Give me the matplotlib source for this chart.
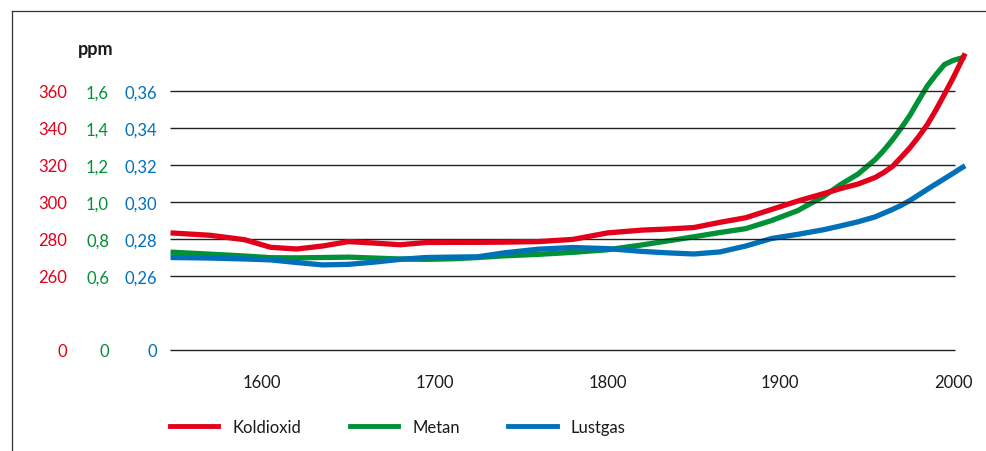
import matplotlib
matplotlib.use("Agg")
import matplotlib.pyplot as plt
from matplotlib.lines import Line2D

plt.rcParams['font.family'] = ['Lato', 'DejaVu Sans']

# values
years = [1547, 1570, 1590, 1605, 1620, 1635, 1650, 1665, 1680, 1695, 1710, 1725,
         1740, 1760, 1780, 1800, 1820, 1835, 1850, 1865, 1880, 1895, 1910, 1925,
         1935, 1945, 1955, 1960, 1965, 1970, 1975, 1980, 1985, 1990, 1995, 2000,
         2004, 2007]
koldioxid = [283.3, 282.0, 279.6, 275.5, 274.6, 276.2, 278.6, 277.8, 276.9, 278.1,
             278.2, 278.2, 278.3, 278.6, 279.8, 283.3, 284.8, 285.4, 286.2, 289.0,
             291.5, 296.0, 300.5, 304.5, 307.3, 309.7, 313.3, 316.0, 319.3, 324.2,
             329.3, 335.2, 341.7, 349.6, 358.2, 367.0, 374.6, 380.3]
metan = [0.729, 0.718, 0.708, 0.699, 0.698, 0.700, 0.702, 0.697, 0.692, 0.690,
         0.693, 0.700, 0.709, 0.717, 0.728, 0.742, 0.768, 0.790, 0.812, 0.835,
         0.856, 0.900, 0.953, 1.030, 1.095, 1.151, 1.230, 1.280, 1.337, 1.400,
         1.468, 1.548, 1.626, 1.687, 1.743, 1.765, 1.776, 1.782]
lustgas = [0.2700, 0.2697, 0.2692, 0.2687, 0.2673, 0.2660, 0.2663, 0.2675, 0.2690,
           0.2700, 0.2702, 0.2704, 0.2725, 0.2745, 0.2754, 0.2748, 0.2733, 0.2725,
           0.2719, 0.2730, 0.2762, 0.2803, 0.2825, 0.2850, 0.2871, 0.2893, 0.2920,
           0.2940, 0.2960, 0.2982, 0.3008, 0.3038, 0.3068, 0.3097, 0.3126, 0.3155,
           0.3179, 0.3196]

co2_ticks = [220, 260, 280, 300, 320, 340, 360]
co2_labels = ['0', '260', '280', '300', '320', '340', '360']
ch4_ticks = [0.2, 0.6, 0.8, 1.0, 1.2, 1.4, 1.6]
ch4_labels = ['0', '0,6', '0,8', '1,0', '1,2', '1,4', '1,6']
n2o_ticks = [0.22, 0.26, 0.28, 0.30, 0.32, 0.34, 0.36]
n2o_labels = ['0', '0,26', '0,28', '0,30', '0,32', '0,34', '0,36']
year_ticks = [1600, 1700, 1800, 1900, 2000]

RED = '#e2001a'
GREEN = '#009036'
BLUE = '#0071b9'
W, H = 987, 452

fig = plt.figure(figsize=(W / 100, H / 100), dpi=100)
ax = fig.add_axes([170 / W, (H - 351) / H, 805 / W, (351 - 45.75) / H])
ax_ch4 = ax.twinx()
ax_n2o = ax.twinx()

ax.set_xlim(1546.7, 2012.7)
ax.set_ylim(220, 385)
ax_ch4.set_ylim(0.2, 1.85)
ax_n2o.set_ylim(0.22, 0.385)

# horizontal rules
ax.hlines(co2_ticks, 0, 0.975, transform=ax.get_yaxis_transform(),
          color='#222222', lw=1.0, clip_on=False, zorder=1)

style = dict(lw=3.8, solid_capstyle='butt', solid_joinstyle='round', zorder=3)
ax_n2o.plot(years, lustgas, color=BLUE, **style)
ax_ch4.plot(years, metan, color=GREEN, **style)
ax.plot(years, koldioxid, color=RED, **style)
ax.set_zorder(3)
ax.patch.set_visible(False)

for a, ticks, labels, col, pad in [(ax, co2_ticks, co2_labels, RED, 74.4),
                                   (ax_ch4, ch4_ticks, ch4_labels, GREEN, 43.9),
                                   (ax_n2o, n2o_ticks, n2o_labels, BLUE, 9.4)]:
    a.yaxis.set_ticks_position('left')
    a.set_yticks(ticks)
    a.set_yticklabels(labels)
    a.tick_params(axis='y', length=0, pad=pad, labelsize=12, labelcolor=col)
    for s in a.spines.values():
        s.set_visible(False)

ax.set_xticks(year_ticks)
ax.set_xticklabels([str(y) for y in year_ticks])
ax.tick_params(axis='x', length=0, pad=17.5, labelsize=12, labelcolor='#1a1a1a')

fig.text(96 / W, 1 - 50 / H, 'ppm', fontsize=13, fontweight='bold',
         ha='center', va='center', color='#1a1a1a')

handles = [Line2D([], [], color=RED, lw=3.5),
           Line2D([], [], color=GREEN, lw=3.5),
           Line2D([], [], color=BLUE, lw=3.5)]
fig.legend(handles, ['Koldioxid', 'Metan', 'Lustgas'], loc='center left',
           bbox_to_anchor=(170 / W, 1 - 428 / H), ncol=3, frameon=False,
           fontsize=12, handlelength=2.9, handletextpad=0.84, columnspacing=2.92,
           borderpad=0, borderaxespad=0, labelcolor='#1a1a1a')

# frame around the figure panel
fig.add_artist(Line2D([12 / W, 12 / W], [0, 1 - 12 / H], color='#333333', lw=0.9))
fig.add_artist(Line2D([12 / W, 1], [1 - 12 / H, 1 - 12 / H], color='#333333', lw=0.9))

fig.savefig('out.png', dpi=100)
